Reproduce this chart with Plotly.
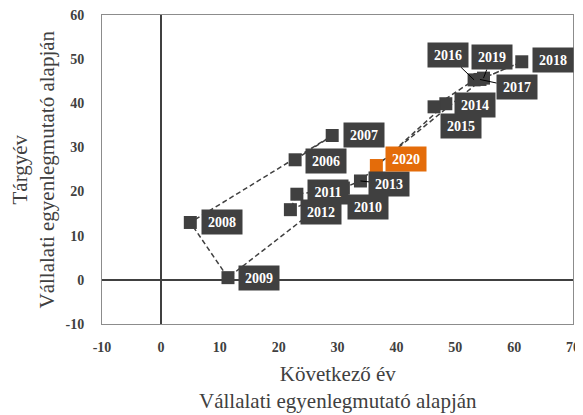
import plotly.graph_objects as go

# Values
years = ["2006", "2007", "2008", "2009", "2010", "2011", "2012", "2013",
         "2014", "2015", "2016", "2017", "2018", "2019", "2020"]
kovetkezo_ev = [22.8, 29.1, 5.0, 11.4, 31.0, 23.1, 22.0, 33.9,
                48.4, 46.4, 53.2, 54.2, 61.3, 54.8, 36.6]
targyev = [27.2, 32.7, 13.0, 0.5, 20.8, 19.4, 15.9, 22.4,
           39.9, 39.2, 45.3, 45.4, 49.4, 45.7, 25.9]
x_ticks = [-10, 0, 10, 20, 30, 40, 50, 60, 70]
y_ticks = [-10, 0, 10, 20, 30, 40, 50, 60]
x_title = "Következő év<br>Vállalati egyenlegmutató alapján"
y_title = "Tárgyév<br>Vállalati egyenlegmutató alapján"

DARK = "#404040"
ORANGE = "#E46C0A"
SERIF = "Liberation Serif"

# label offsets (pixels) from each point, and which labels have a leader line
label_offset = {
    "2006": (31, 1), "2007": (32, -1), "2008": (32, 0), "2009": (31, 0),
    "2010": (25, 19), "2011": (31, -2), "2012": (31, 2), "2013": (29, 3),
    "2014": (29, 1), "2015": (27, 19), "2016": (-26, -25), "2017": (37, 8),
    "2018": (31, -2), "2019": (8, -21), "2020": (30, -7),
}
leaders = {"2013", "2016", "2017", "2019"}

colors = [ORANGE if y == "2020" else DARK for y in years]

fig = go.Figure(
    go.Scatter(
        x=kovetkezo_ev,
        y=targyev,
        mode="lines+markers",
        line=dict(color=DARK, width=1.5, dash="5px,3px"),
        marker=dict(symbol="square", size=13, color=colors),
        hoverinfo="skip",
        showlegend=False,
    )
)

for yr, xv, yv in zip(years, kovetkezo_ev, targyev):
    dx, dy = label_offset[yr]
    fig.add_annotation(
        x=xv, y=yv, ax=dx, ay=dy,
        text=f"<b>{yr}</b>",
        font=dict(family=SERIF, size=14, color="white"),
        bgcolor=ORANGE if yr == "2020" else DARK,
        width=38, height=22,
        showarrow=True, arrowhead=0, arrowwidth=1, standoff=0,
        arrowcolor="black" if yr in leaders else "rgba(0,0,0,0)",
    )

# axis titles as paper annotations so the plot area stays put
fig.add_annotation(
    x=0.5, y=0, xref="paper", yref="paper", yanchor="middle", yshift=-63,
    text=x_title, showarrow=False,
    font=dict(family=SERIF, size=21, color=DARK),
)
fig.add_annotation(
    x=0, y=0.5, xref="paper", yref="paper", xanchor="center", xshift=-69,
    text=y_title, showarrow=False, textangle=-90,
    font=dict(family=SERIF, size=21, color=DARK),
)

axis_common = dict(
    showgrid=False, zeroline=True, zerolinecolor=DARK, zerolinewidth=1.5,
    showline=True, mirror=True, linecolor="#8C8C8C", linewidth=1,
    ticks="", automargin=False, ticklabeloverflow="allow",
    tickfont=dict(family=SERIF, size=14, color=DARK),
)

# page body adds an 8px margin, so the figure is 8px smaller each way
fig.update_layout(
    width=575,
    height=407,
    margin=dict(l=94, r=10, t=7, b=91),
    paper_bgcolor="white",
    plot_bgcolor="white",
    font=dict(family=SERIF, color=DARK),
    xaxis=dict(range=[-10, 70], tickvals=x_ticks,
               ticktext=[f"<b>{v}</b>" for v in x_ticks],
               ticklabelstandoff=10, **axis_common),
    yaxis=dict(range=[-10, 60], tickvals=y_ticks,
               ticktext=[f"<b>{v}</b>" for v in y_ticks],
               ticklabelstandoff=14, **axis_common),
)

fig.write_html("out.html")
